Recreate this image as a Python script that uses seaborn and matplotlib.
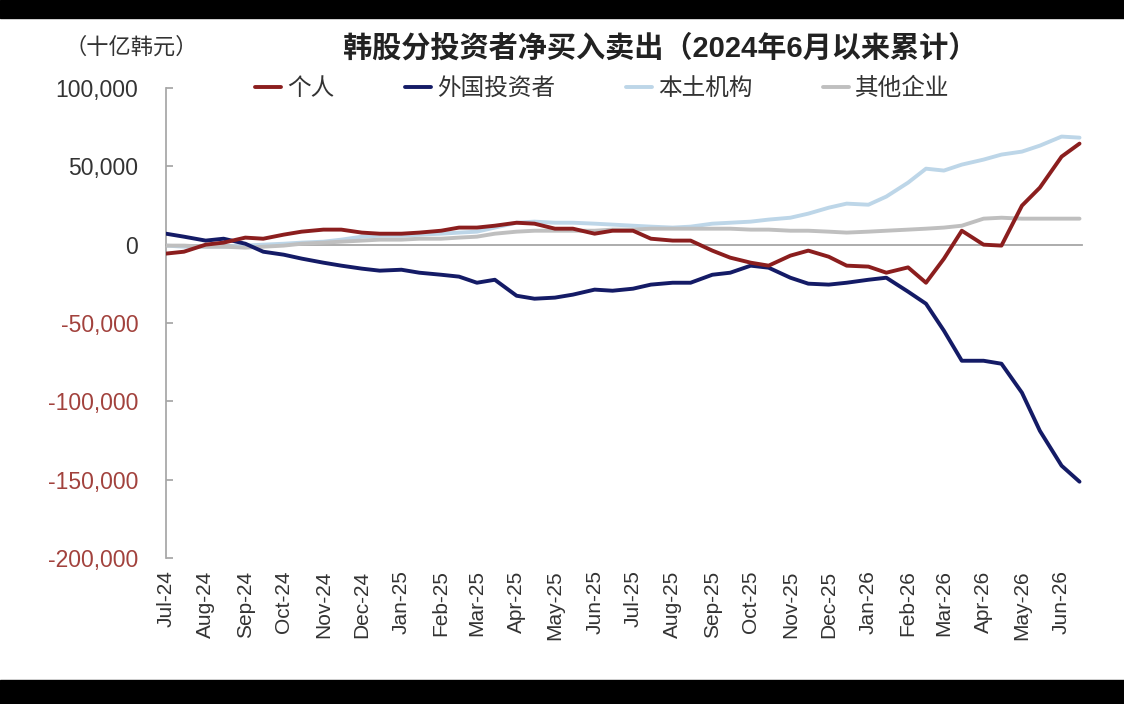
import pandas as pd
import matplotlib
matplotlib.use("Agg")
import matplotlib.pyplot as plt
import matplotlib.dates as mdates
from matplotlib.patches import Rectangle
from matplotlib.ticker import FuncFormatter
import seaborn as sns

# semi-monthly readings, 1 Jul 2024 .. 15 Jun 2026 (10 亿韩元, cumulative)
dates = pd.date_range("2024-07-01", "2026-06-15", freq="SMS")

individual = [-5700, -4500, 0, 1300, 4500, 3800, 6400, 8300, 9600, 9600,
              7700, 7000, 7000, 7700, 8900, 10900, 10900, 12100, 14000, 13400,
              10200, 10200, 7000, 8900, 8900, 3800, 2600, 2600, -3800, -8300,
              -11500, -13400, -7000, -3800, -7700, -13400, -14000, -17900, -14500, -24300,
              -9000, 8900, 0, -600, 24900, 36400, 56200, 64500]
foreign = [7000, 5100, 2600, 3800, 600, -4500, -6400, -8900, -11500, -13400,
           -15300, -16600, -16000, -17900, -19200, -20400, -24300, -22400, -32600, -34500,
           -33800, -31900, -28700, -29400, -28100, -25500, -24300, -24300, -19200, -17900,
           -13400, -14700, -21100, -24900, -25500, -24300, -22400, -21100, -30000, -37700,
           -54900, -74100, -74100, -76000, -94500, -118800, -141100, -151300]
institution = [-600, -1300, -1300, -1300, -600, 0, 600, 1300, 1900, 3200,
               5100, 5700, 5700, 6400, 7000, 7700, 8300, 10900, 14000, 14700,
               14000, 14000, 13400, 12800, 12100, 11500, 10900, 11500, 13400, 14000,
               14700, 16000, 17200, 19800, 23600, 26200, 25500, 30700, 39600, 48500,
               47300, 51100, 54300, 57500, 59400, 63200, 69000, 68300]
corporate = [-600, -600, -1300, -1300, -1900, -1300, -600, 600, 1300, 1900,
             2600, 3200, 3200, 3800, 3800, 4500, 5100, 7000, 8300, 8900,
             8900, 8900, 8900, 9600, 9600, 10200, 10200, 10200, 10200, 10200,
             9600, 9600, 8900, 8900, 8300, 7700, 8300, 8900, 9600, 10200,
             10900, 12100, 16600, 17200, 16600, 16600, 16600, 16600]

names = ["个人", "外国投资者", "本土机构", "其他企业"]
colors = ["#8b1e1e", "#141b66", "#bdd6e8", "#bfbfbf"]
yticks = [100000, 50000, 0, -50000, -100000, -150000, -200000]

df = pd.DataFrame({"date": dates, "个人": individual, "外国投资者": foreign,
                   "本土机构": institution, "其他企业": corporate})

sns.set_theme(style="white")
plt.rcParams["font.family"] = ["Liberation Sans", "Noto Sans CJK SC", "DejaVu Sans"]

fig = plt.figure(figsize=(11.24, 7.04), dpi=100)
ax = fig.add_axes([0.1477, 0.2074, 0.815, 0.6676])

# draw order: grey / light blue beneath, red on top
zorders = {"个人": 5, "外国投资者": 4, "本土机构": 2, "其他企业": 3}
handles = {}
for name, c in zip(names, colors):
    sns.lineplot(data=df, x="date", y=name, color=c, linewidth=2.8, ax=ax,
                 zorder=zorders[name], label=name)
    handles[name] = ax.get_lines()[-1]

ax.set_ylim(-200000, 100000)
ax.set_xlim(pd.Timestamp("2024-07-01"), pd.Timestamp("2026-06-17"))
ax.set_xlabel("")
ax.set_ylabel("")

for s in ["top", "right"]:
    ax.spines[s].set_visible(False)
ax.spines["left"].set_color("#a6a6a6")
ax.spines["bottom"].set_color("#a6a6a6")
ax.spines["bottom"].set_linewidth(1.3)
ax.spines["bottom"].set_position(("data", 0))
ax.spines["bottom"].set_zorder(1)

ax.xaxis.set_major_locator(mdates.MonthLocator())
ax.tick_params(axis="x", direction="in", length=5, color="#a6a6a6", labelbottom=False)

ax.set_yticks(yticks)
ax.yaxis.set_major_formatter(FuncFormatter(lambda v, p: f"{v:,.0f}"))
ax.tick_params(axis="y", direction="in", length=5, color="#a6a6a6", pad=20,
               labelsize=16.5, left=True)
for lab, v in zip(ax.get_yticklabels(), yticks):
    lab.set_color("#a2423d" if v < 0 else "#333333")

sec = ax.secondary_xaxis(0)
sec.xaxis.set_major_locator(mdates.MonthLocator())
sec.xaxis.set_major_formatter(mdates.DateFormatter("%b-%y"))
sec.tick_params(length=0, labelrotation=90, labelsize=15, pad=9, labelcolor="#333333")
sec.spines["bottom"].set_visible(False)

ax.legend([handles[n] for n in names], names, loc="center",
          bbox_to_anchor=(0.536, 1 - 89 / 704), bbox_transform=fig.transFigure,
          ncol=4, frameon=False, fontsize=17, handlelength=1.1,
          handletextpad=0.25, columnspacing=3.0, labelcolor="#333333")

fig.text(0.587, 1 - 48 / 704, "韩股分投资者净买入卖出（2024年6月以来累计）",
         ha="center", va="center", fontsize=21, fontweight="bold", color="#222222")
fig.text(65 / 1124, 1 - 48 / 704, "（十亿韩元）", ha="left", va="center",
         fontsize=16, color="#333333")

# black screenshot bands at top and bottom
fig.add_artist(Rectangle((0, 1 - 18 / 704), 1, 18 / 704, transform=fig.transFigure,
                         color="black", zorder=10))
fig.add_artist(Rectangle((0, 0), 1, 24 / 704, transform=fig.transFigure,
                         color="black", zorder=10))

fig.savefig("out.png", dpi=100)
